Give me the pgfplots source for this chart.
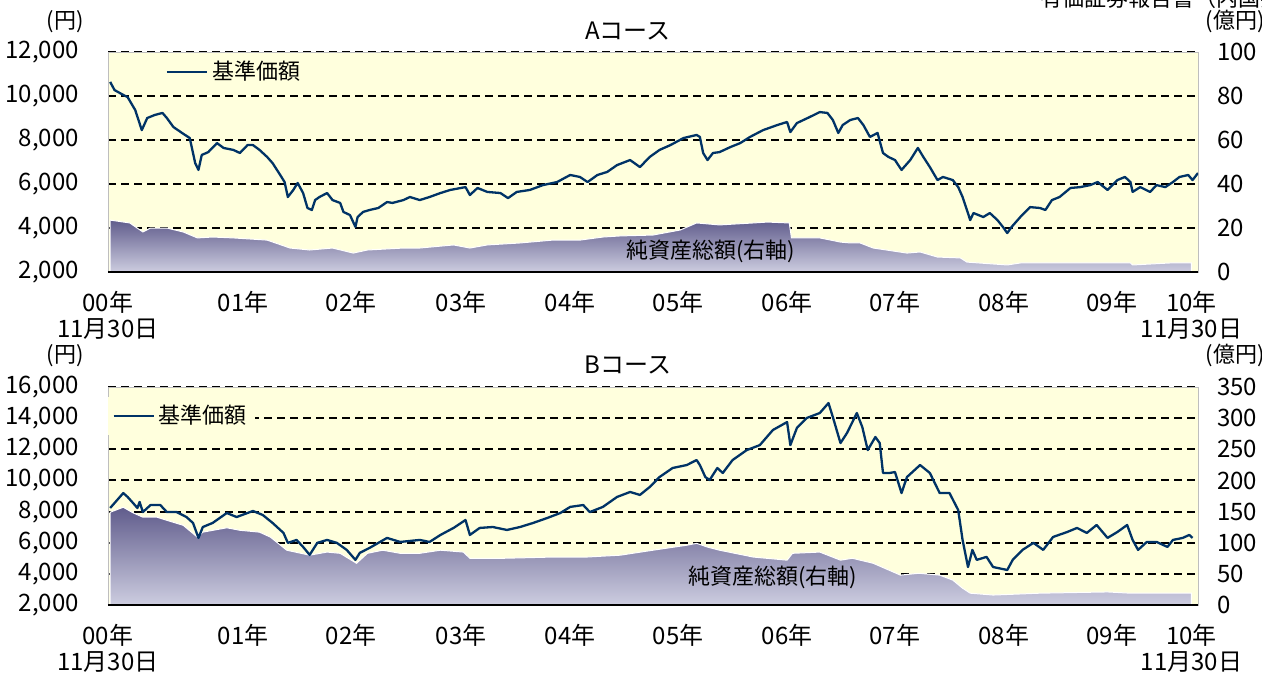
\documentclass[border=0pt]{standalone}
\usepackage{fontspec}
\setmainfont{Noto Sans CJK JP}
\usepackage{pgfplots}
\pgfplotsset{compat=1.18}

\definecolor{bgyellow}{RGB}{255,255,221}
\definecolor{navline}{RGB}{0,51,102}
\definecolor{areatop}{RGB}{96,92,140}
\definecolor{areabot}{RGB}{205,205,224}
\definecolor{frame}{RGB}{190,190,190}

\newcommand\tl{\fontsize{12}{13}\selectfont}

\pgfplotsset{
  base/.style={scale only axis, width=545pt, xmin=0, xmax=10,
    tick label style={font=\tl},
    /pgf/number format/assume math mode=true,
    scaled y ticks=false, major tick length=0pt},
  rightax/.style={base, axis background/.style={fill=bgyellow},
    axis line style={draw=frame, line width=0.5pt},
    xtick=\empty, ymin=0, yticklabel pos=right, ymajorgrids,
    grid style={black, line width=1pt, dash pattern=on 4pt off 2.5pt},
    yticklabel style={xshift=6pt}},
  leftax/.style={base, axis x line*=bottom, axis y line*=left,
    x axis line style={black, line width=1pt, -},
    y axis line style={draw=none},
    xtick={0,1.24,2.23,3.24,4.24,5.23,6.23,7.22,8.22,9.21,9.94},
    xticklabels={{00年\\11月30日},01年,02年,03年,04年,05年,06年,07年,08年,09年,{10年\\11月30日}},
    xticklabel style={align=center, yshift=-6pt},
    yticklabel style={xshift=-11pt},
    /pgf/number format/1000 sep={,},
    legend style={draw=none, fill=bgyellow, font=\fontsize{11}{12}\selectfont,
      anchor=west, inner sep=2pt},
    legend image code/.code={\draw[#1] (0pt,0pt) -- (20pt,0pt);}},
  area/.style={draw=white, line width=0.5pt,
    top color=areatop, bottom color=areabot},
  nav/.style={navline, line width=1.15pt, line join=round},
}

\begin{document}
\begin{tikzpicture}
\useasboundingbox (0,0) rectangle (631pt,-338.5pt);

% ---- A course ----
\begin{axis}[rightax, at={(54pt,-136pt)}, anchor=south west, height=110pt,
  ymax=100, ytick={0,20,...,100}]
\addplot[area] coordinates {
(0.02,23.6)(0.20,22.3)(0.32,18.2)(0.39,20)(0.54,20)(0.69,18.2)(0.82,15.5)(0.96,15.9)
(1.15,15.5)(1.46,14.5)(1.67,10.9)(1.85,10)(2.06,10.9)(2.25,8.6)(2.38,10)(2.71,10.9)
(2.86,10.9)(3.17,12.3)(3.32,10.9)(3.48,12.3)(3.78,13.2)(4.08,14.5)(4.33,14.5)(4.54,15.9)
(4.70,16.4)(5.00,16.8)(5.25,19.1)(5.40,22.3)(5.61,21.4)(5.92,22.3)(6.05,22.7)(6.25,22.3)
(6.27,15.5)(6.53,15.5)(6.72,13.6)(6.81,13.2)(6.90,13.2)(7.02,10.9)(7.33,8.6)(7.45,9.1)
(7.61,6.8)(7.82,6.4)(7.88,4.5)(8.25,3.2)(8.37,4.1)(8.85,4.1)(9.38,4.1)(9.40,3.2)
(9.74,4.1)(9.94,4.1)} \closedcycle;
\end{axis}
\begin{axis}[leftax, at={(54pt,-136pt)}, anchor=south west, height=110pt,
  ymin=2000, ymax=12000, ytick={2000,4000,...,12000},
  legend style={at={(0.049,0.909)}}]
\addplot[nav] coordinates {
(0.02,10640)(0.06,10270)(0.14,10050)(0.18,9950)(0.25,9360)(0.31,8450)(0.36,9000)(0.43,9140)
(0.50,9230)(0.54,9000)(0.60,8590)(0.68,8320)(0.75,8090)(0.80,6950)(0.83,6640)(0.86,7320)
(0.92,7450)(1.00,7860)(1.06,7640)(1.15,7550)(1.21,7410)(1.28,7770)(1.33,7770)(1.39,7550)
(1.46,7230)(1.51,6950)(1.58,6410)(1.62,6090)(1.65,5410)(1.70,5730)(1.74,6050)(1.79,5590)
(1.83,4910)(1.87,4820)(1.90,5270)(1.94,5410)(2.01,5590)(2.06,5270)(2.13,5140)(2.16,4730)
(2.22,4590)(2.27,4050)(2.29,4500)(2.34,4730)(2.40,4820)(2.48,4910)(2.56,5180)(2.61,5140)
(2.71,5270)(2.77,5410)(2.86,5270)(2.95,5410)(3.05,5590)(3.14,5730)(3.28,5860)(3.32,5500)
(3.39,5820)(3.48,5640)(3.60,5590)(3.67,5360)(3.75,5640)(3.87,5730)(3.99,5950)(4.12,6090)
(4.24,6410)(4.33,6320)(4.40,6090)(4.49,6410)(4.58,6550)(4.67,6860)(4.79,7090)(4.88,6770)
(4.97,7230)(5.06,7550)(5.16,7770)(5.28,8090)(5.40,8230)(5.43,8140)(5.46,7410)(5.50,7090)
(5.55,7410)(5.61,7450)(5.71,7680)(5.80,7860)(5.89,8140)(6.01,8450)(6.14,8680)(6.23,8820)
(6.26,8360)(6.32,8770)(6.44,9050)(6.53,9270)(6.60,9230)(6.65,8910)(6.70,8320)(6.74,8680)
(6.81,8910)(6.88,9000)(6.93,8680)(6.99,8140)(7.06,8320)(7.11,7410)(7.16,7230)(7.22,7090)
(7.28,6640)(7.36,7090)(7.43,7640)(7.48,7230)(7.54,6770)(7.61,6180)(7.66,6320)(7.75,6180)
(7.80,5860)(7.84,5410)(7.88,4820)(7.91,4360)(7.94,4680)(8.03,4500)(8.09,4680)(8.16,4360)
(8.21,4050)(8.25,3770)(8.29,4050)(8.37,4500)(8.46,4950)(8.55,4910)(8.60,4820)(8.66,5270)
(8.73,5410)(8.83,5820)(8.92,5860)(9.01,5950)(9.08,6090)(9.17,5730)(9.26,6180)(9.33,6320)
(9.38,6090)(9.40,5640)(9.47,5860)(9.56,5640)(9.62,5950)(9.70,5860)(9.77,6090)(9.83,6320)
(9.91,6410)(9.95,6180)(10.00,6500)};
\addlegendentry{基準価額}
\end{axis}

% ---- B course ----
\begin{axis}[rightax, at={(54pt,-302.5pt)}, anchor=south west, height=109pt,
  ymax=350, ytick={0,50,...,350}]
\addplot[area] coordinates {
(0.02,149)(0.14,157)(0.23,148)(0.32,141)(0.45,141)(0.54,136)(0.69,128)(0.82,109)
(0.87,117)(1.09,124)(1.21,120)(1.39,117)(1.49,109)(1.64,88)(1.85,80)(2.01,85)
(2.13,83)(2.28,67)(2.38,83)(2.52,88)(2.68,83)(2.86,83)(3.05,88)(3.26,85)
(3.32,75)(3.62,75)(4.08,77)(4.39,77)(4.70,80)(5.00,88)(5.31,96)(5.40,99)
(5.50,93)(5.61,88)(5.92,77)(6.23,72)(6.28,83)(6.53,85)(6.72,72)(6.83,75)
(7.02,67)(7.27,48)(7.44,51)(7.63,48)(7.75,40)(7.84,27)(7.91,19)(8.12,16)
(8.55,19)(9.17,21)(9.38,19)(9.74,19)(9.94,19)} \closedcycle;
\end{axis}
\begin{axis}[leftax, at={(54pt,-302.5pt)}, anchor=south west, height=109pt,
  ymin=2000, ymax=16000, ytick={2000,4000,...,16000},
  legend style={at={(0.0,0.867)}}]
\addplot[nav] coordinates {
(0.02,8232)(0.06,8550)(0.14,9190)(0.18,8940)(0.23,8550)(0.27,8230)(0.29,8620)(0.32,7970)
(0.39,8420)(0.48,8420)(0.54,7970)(0.63,7970)(0.72,7650)(0.78,7270)(0.83,6310)(0.87,7010)
(0.96,7270)(1.09,7910)(1.18,7650)(1.28,7910)(1.33,8040)(1.42,7780)(1.51,7270)(1.61,6630)
(1.65,5990)(1.73,6180)(1.79,5730)(1.85,5220)(1.92,5990)(2.01,6180)(2.10,5990)(2.19,5540)
(2.27,4900)(2.31,5350)(2.40,5670)(2.56,6310)(2.68,6050)(2.86,6180)(2.95,6050)(3.05,6500)
(3.17,6950)(3.28,7460)(3.32,6500)(3.41,6950)(3.53,7010)(3.66,6820)(3.78,7010)(3.90,7270)
(4.03,7590)(4.15,7910)(4.24,8300)(4.36,8420)(4.42,7970)(4.54,8300)(4.67,8940)(4.79,9260)
(4.88,9070)(4.97,9580)(5.06,10220)(5.18,10800)(5.31,10990)(5.40,11310)(5.43,10990)(5.48,10220)
(5.52,10030)(5.59,10800)(5.64,10480)(5.73,11310)(5.86,11950)(5.98,12270)(6.10,13240)(6.23,13750)
(6.26,12270)(6.32,13370)(6.41,14010)(6.53,14330)(6.61,14970)(6.65,14070)(6.72,12400)(6.78,13050)
(6.87,14330)(6.92,13430)(6.97,11950)(7.04,12790)(7.08,12400)(7.11,10480)(7.17,10480)(7.22,10540)
(7.28,9190)(7.33,10220)(7.45,10990)(7.54,10480)(7.63,9190)(7.72,9190)(7.80,8100)(7.84,6180)
(7.89,4440)(7.93,5540)(7.97,4900)(8.06,5090)(8.12,4440)(8.25,4250)(8.30,4900)(8.39,5540)
(8.49,5990)(8.58,5540)(8.67,6370)(8.80,6690)(8.89,6950)(8.98,6630)(9.07,7140)(9.17,6310)
(9.26,6690)(9.35,7140)(9.40,6180)(9.45,5540)(9.53,6050)(9.62,6050)(9.72,5730)(9.77,6180)
(9.86,6310)(9.92,6500)(9.95,6310)};
\addlegendentry{基準価額}
\end{axis}

% ---- texts, in pixel coordinates ----
\begin{scope}[x=0.5pt,y=-0.5pt]
\node[font=\tl] at (628,31) {Aコース};
\node[font=\tl] at (628,365) {Bコース};
\node[font=\fontsize{11}{12}\selectfont] at (65,22) {(円)};
\node[font=\fontsize{11}{12}\selectfont] at (65,356) {(円)};
\node[font=\fontsize{11}{12}\selectfont] at (1235,21) {(億円)};
\node[font=\fontsize{11}{12}\selectfont] at (1235,355) {(億円)};
\node[font=\fontsize{11}{12}\selectfont, anchor=west, inner sep=0pt] at (1040,-2) {有価証券報告書（内国投資信託受益証券）};
\node[font=\fontsize{11}{12}\selectfont, anchor=west, inner sep=0pt] at (626,251) {純資産総額(右軸)};
\node[font=\fontsize{11}{12}\selectfont, anchor=west, inner sep=0pt] at (688,577) {純資産総額(右軸)};
\end{scope}
\end{tikzpicture}
\end{document}
